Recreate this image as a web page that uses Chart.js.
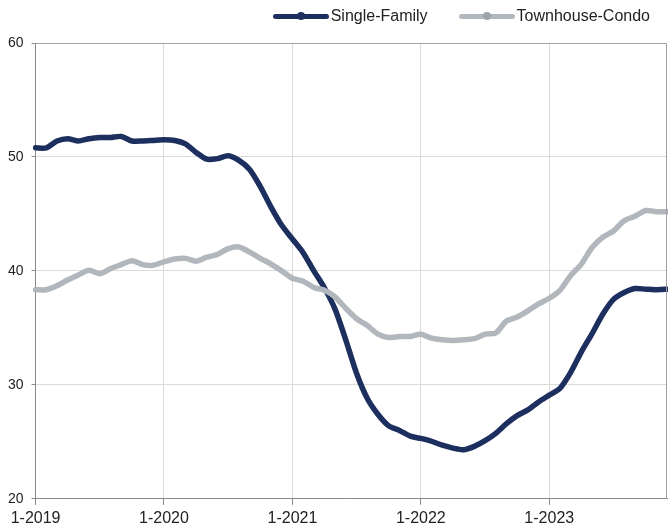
<!DOCTYPE html>
<html>
<head>
<meta charset="utf-8">
<script src="https://cdn.jsdelivr.net/npm/chart.js@4/dist/chart.umd.min.js"></script>
<style>
  html, body { margin: 0; padding: 0; background: #fff; }
  #wrap { position: relative; width: 668px; height: 528px; }
  #legend { position: absolute; top: 7px; right: 18px; display: flex; align-items: center;
    font-family: 'Liberation Sans', Arial, sans-serif; font-size: 16px; color: #222; }
  .item { display: flex; align-items: center; margin-left: 31px; }
  .sample { position: relative; width: 56px; height: 5px; border-radius: 3px; margin-right: 2px; }
  .dot { position: absolute; left: 24px; top: -1.5px; width: 8px; height: 8px; border-radius: 50%; }
</style>
</head>
<body>
<div id="wrap">
  <canvas id="c" width="668" height="528"></canvas>
  <div id="legend"></div>
</div>
<script>
const years = ['2019', '2020', '2021', '2022', '2023'];
const categories = [];
years.forEach(y => { for (let m = 1; m <= 12; m++) categories.push(m + '-' + y); });

const seriesNames = ['Single-Family', 'Townhouse-Condo'];
const singleFamily = [50.8, 50.8, 51.4, 51.6, 51.4, 51.6, 51.7, 51.7, 51.8, 51.4, 51.4, 51.45,
  51.5, 51.45, 51.15, 50.4, 49.8, 49.85, 50.1, 49.7, 48.9, 47.4, 45.6, 44.0,
  42.8, 41.6, 40.0, 38.5, 36.6, 33.9, 31.0, 28.8, 27.4, 26.4, 26.0, 25.5,
  25.3, 25.05, 24.7, 24.45, 24.3, 24.6, 25.1, 25.75, 26.6, 27.3, 27.8, 28.5,
  29.1, 29.7, 31.1, 32.9, 34.5, 36.2, 37.5, 38.1, 38.45, 38.4, 38.35, 38.4];
const townhouseCondo = [38.35, 38.35, 38.7, 39.2, 39.65, 40.05, 39.75, 40.2, 40.55, 40.9, 40.55, 40.5,
  40.8, 41.05, 41.1, 40.85, 41.2, 41.45, 41.95, 42.1, 41.65, 41.1, 40.6, 40.0,
  39.35, 39.1, 38.55, 38.3, 37.7, 36.7, 35.8, 35.2, 34.45, 34.15, 34.25, 34.25,
  34.45, 34.1, 33.95, 33.9, 33.95, 34.05, 34.45, 34.55, 35.6, 35.95, 36.5, 37.1,
  37.6, 38.3, 39.6, 40.6, 42.05, 42.95, 43.5, 44.4, 44.8, 45.3, 45.2, 45.2];
const yTicks = [20, 30, 40, 50, 60];

const colors = ['#1d2f5e', '#b1b7bc'];
const dotColors = ['#1d2f5e', '#9ea5aa'];

// HTML legend
const legend = document.getElementById('legend');
seriesNames.forEach((name, i) => {
  const item = document.createElement('div');
  item.className = 'item';
  if (i === 0) item.style.marginLeft = '0';
  const s = document.createElement('div');
  s.className = 'sample';
  s.style.background = colors[i];
  const d = document.createElement('div');
  d.className = 'dot';
  d.style.background = dotColors[i];
  s.appendChild(d);
  const t = document.createElement('span');
  t.textContent = name;
  item.appendChild(s);
  item.appendChild(t);
  legend.appendChild(item);
});

const borderPlugin = {
  id: 'plotBorder',
  afterDraw(chart) {
    const a = chart.chartArea, ctx = chart.ctx;
    ctx.save();
    ctx.strokeStyle = '#a0a0a0';
    ctx.lineWidth = 1;
    ctx.beginPath();
    ctx.moveTo(a.left, a.top + 0.5);
    ctx.lineTo(a.right - 0.5, a.top + 0.5);
    ctx.lineTo(a.right - 0.5, a.bottom);
    ctx.stroke();
    ctx.restore();
  }
};

Chart.defaults.font.family = "'Liberation Sans', Arial, sans-serif";
Chart.defaults.color = '#222';

new Chart(document.getElementById('c'), {
  type: 'line',
  data: {
    labels: categories,
    datasets: [
      { label: seriesNames[0], data: singleFamily, borderColor: colors[0], backgroundColor: colors[0],
        borderWidth: 5.5, pointRadius: 0, tension: 0.25, borderJoinStyle: 'round', borderCapStyle: 'round', order: 1 },
      { label: seriesNames[1], data: townhouseCondo, borderColor: colors[1], backgroundColor: colors[1],
        borderWidth: 5.5, pointRadius: 0, tension: 0.25, borderJoinStyle: 'round', borderCapStyle: 'round', order: 0 }
    ]
  },
  options: {
    responsive: false,
    animation: false,
    layout: { padding: { top: 43, left: 0, right: 1, bottom: -4 } },
    plugins: { legend: { display: false }, tooltip: { enabled: false } },
    scales: {
      x: {
        offset: false,
        border: { color: '#8a8a8a', width: 1 },
        grid: {
          color: c => (c.index % 12 === 0 && c.index > 0) ? '#dadada' : 'rgba(0,0,0,0)',
          tickColor: c => (c.index % 12 === 0) ? '#8a8a8a' : 'rgba(0,0,0,0)',
          tickLength: 6,
          lineWidth: 1
        },
        ticks: {
          autoSkip: false, maxRotation: 0, minRotation: 0, padding: 4,
          font: { size: 16 },
          callback: function(v, i) { return i % 12 === 0 ? categories[i] : ''; }
        },
        afterFit: s => { s.paddingRight = 0; }
      },
      y: {
        min: yTicks[0], max: yTicks[yTicks.length - 1],
        border: { color: '#8a8a8a', width: 1 },
        grid: { color: '#dadada', tickColor: '#8a8a8a', tickLength: 4, lineWidth: 1 },
        ticks: { stepSize: 10, padding: 8, font: { size: 14 } },
        afterBuildTicks: s => { s.ticks = yTicks.map(v => ({ value: v })); }
      }
    }
  },
  plugins: [borderPlugin]
});
</script>
</body>
</html>
